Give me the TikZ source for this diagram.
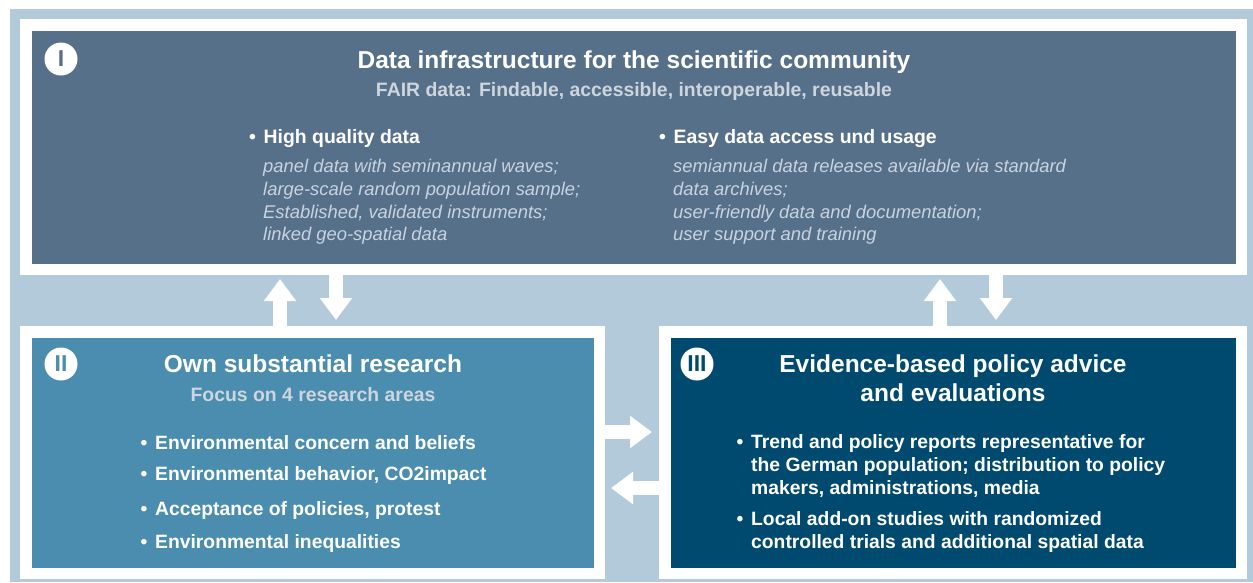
\documentclass[tikz,border=0pt]{standalone}
\usepackage{fontspec}
\setmainfont{Liberation Sans}
\usetikzlibrary{arrows.meta}
\definecolor{backblue}{RGB}{178,202,218}
\definecolor{infrablue}{RGB}{87,112,138}
\definecolor{researchblue}{RGB}{74,141,174}
\definecolor{policyblue}{RGB}{0,74,112}
\definecolor{subgrey}{RGB}{205,213,222}
\definecolor{notegrey}{RGB}{200,211,224}
\newcommand{\bul}{\makebox[14.5pt][l]{\textbullet}}
\newcommand{\fs}[2]{\fontsize{#1}{#2}\selectfont}
\tikzset{
  panel/.style={draw=white, line width=11.5pt, inner sep=0pt},
  numcircle/.style={circle, fill=white, minimum size=33pt, inner sep=0pt, font=\bfseries\fs{23}{23}},
  boxtitle/.style={text=white, font=\bfseries\fs{24.5}{29.4}, align=center},
  boxsub/.style={text=subgrey, font=\bfseries\fs{19.4}{23}},
  bulhead/.style={text=white, font=\bfseries\fs{19.4}{23}, anchor=west, inner sep=0pt},
  notes/.style={text=notegrey, font=\itshape\fs{18.4}{22.6}, anchor=west, align=left, inner sep=0pt},
  bultext/.style={text=white, font=\bfseries\fs{19.3}{23}, anchor=west, align=left, inner sep=0pt},
  fatarrow/.style={draw=white, line width=14pt, -{Triangle[width=31pt,length=22pt]}},
}
\begin{document}
\begin{tikzpicture}[x=1pt, y=-1pt]
\useasboundingbox (0,0) rectangle (1253,582);
\fill[white] (0,0) rectangle (1253,582);
\fill[backblue] (10,9) rectangle (1253,582);

\node[panel, fill=infrablue, minimum width=1215.5pt, minimum height=244.5pt] (infra) at (633.5,147) {};
\node[panel, fill=researchblue, minimum width=573.5pt, minimum height=241.5pt] (research) at (312.5,452.5) {};
\node[panel, fill=policyblue, minimum width=576.5pt, minimum height=241.5pt] (policy) at (953,452.5) {};

\draw[fatarrow, shorten >=4pt] (280,0 |- research.north) -- (280,0 |- infra.south);
\draw[fatarrow, shorten >=6pt] (336,0 |- infra.south) -- (336,0 |- research.north);
\draw[fatarrow, shorten >=4pt] (940,0 |- policy.north) -- (940,0 |- infra.south);
\draw[fatarrow, shorten >=6pt] (996,0 |- infra.south) -- (996,0 |- policy.north);
\draw[fatarrow, shorten >=7pt] (research.east |- 0,432) -- (policy.west |- 0,432);
\draw[fatarrow, shorten >=6pt] (policy.west |- 0,488) -- (research.east |- 0,488);

\node[numcircle, text=infrablue] (numI) at (61,59) {I};
\node[numcircle, text=researchblue] (numII) at (61,364) {II};
\node[numcircle, text=policyblue] (numIII) at (697,364) {III};

\node[boxtitle] (infratitle) at (634,62) {Data infrastructure for the scientific community};
\node[boxsub] (infrasub) at (634,91) {FAIR data: Findable, accessible, interoperable, reusable};
\node[bulhead] (quality) at (249,139) {\bul High quality data};
\node[notes] (qualitynotes) at (263,202) {panel data with seminannual waves;\\large-scale random population sample;\\Established, validated instruments;\\linked geo-spatial data};
\node[bulhead] (access) at (659,139) {\bul Easy data access und usage};
\node[notes] (accessnotes) at (673,202) {semiannual data releases available via standard\\data archives;\\user-friendly data and documentation;\\user support and training};

\node[boxtitle] (researchtitle) at (313,364) {Own substantial research};
\node[boxsub] (researchsub) at (313,395) {Focus on 4 research areas};
\node[bultext] (area1) at (140.5,443) {\bul Environmental concern and beliefs};
\node[bultext] (area2) at (140.5,476) {\bul Environmental behavior, CO2impact};
\node[bultext] (area3) at (140.5,510) {\bul Acceptance of policies, protest};
\node[bultext] (area4) at (140.5,543) {\bul Environmental inequalities};

\node[boxtitle] (policytitle) at (953,378.5) {Evidence-based policy advice\\and evaluations};
\node[bultext] (reports) at (736.5,466) {\bul Trend and policy reports representative for\\\hspace*{14.5pt}the German population; distribution to policy\\\hspace*{14.5pt}makers, administrations, media};
\node[bultext] (studies) at (736.5,531.5) {\bul Local add-on studies with randomized\\\hspace*{14.5pt}controlled trials and additional spatial data};
\end{tikzpicture}
\end{document}
